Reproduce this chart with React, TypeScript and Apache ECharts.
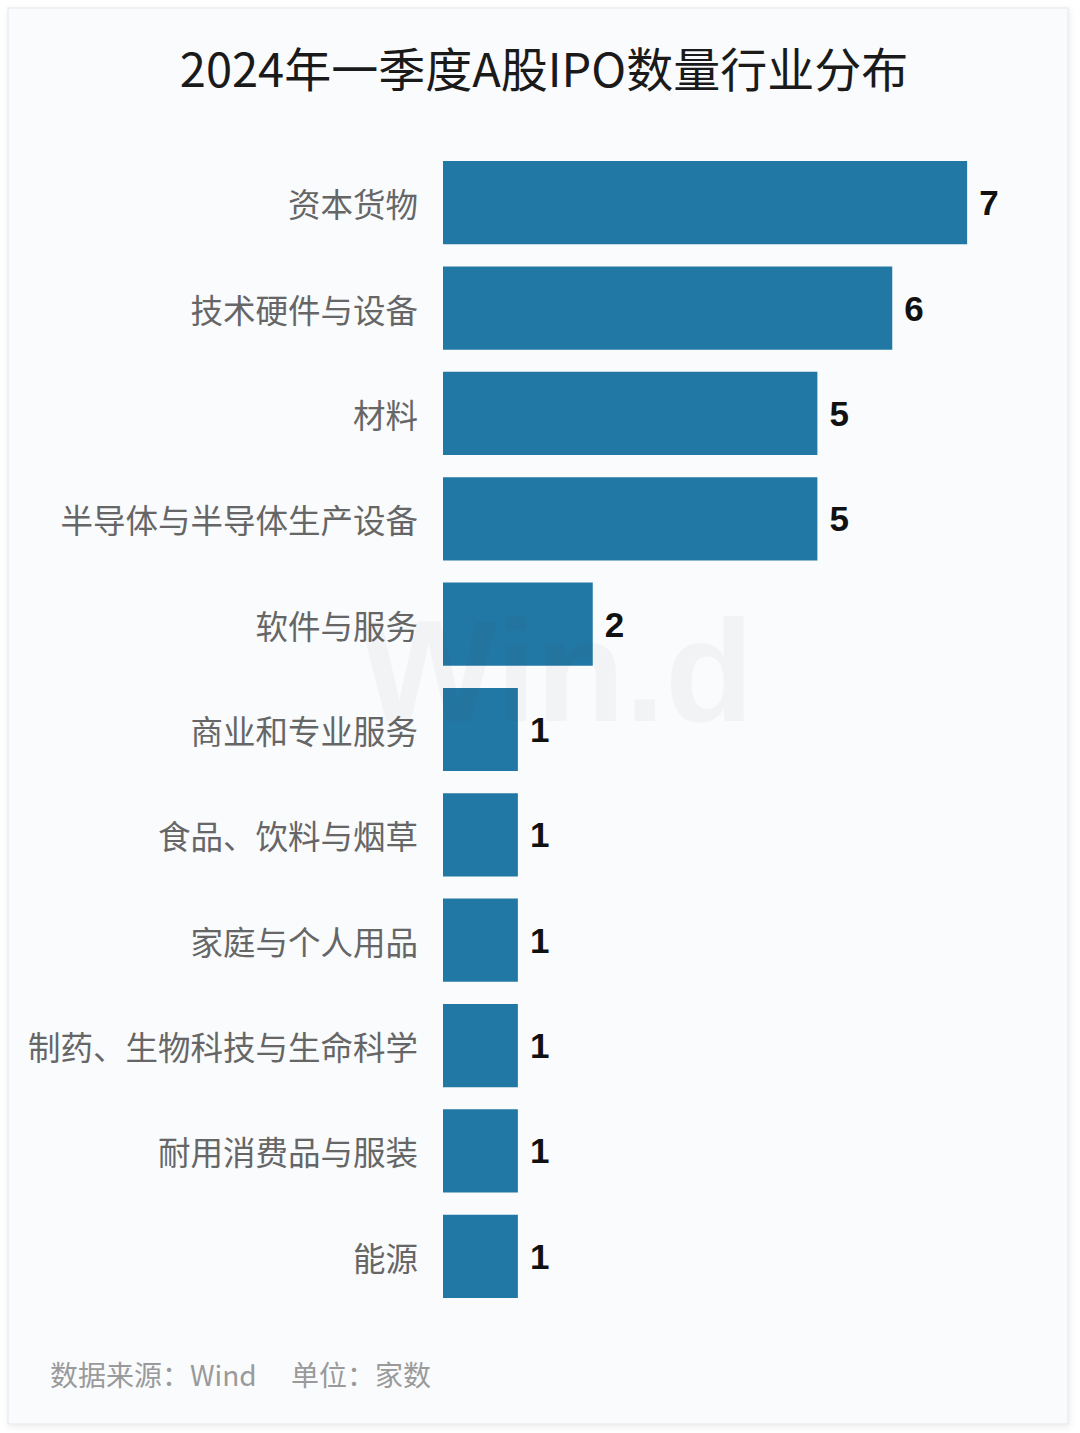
import React, { useEffect, useRef } from "react";
import * as echarts from "echarts";

const titleText = "2024年一季度A股IPO数量行业分布";
const categories = [
  "资本货物",
  "技术硬件与设备",
  "材料",
  "半导体与半导体生产设备",
  "软件与服务",
  "商业和专业服务",
  "食品、饮料与烟草",
  "家庭与个人用品",
  "制药、生物科技与生命科学",
  "耐用消费品与服装",
  "能源",
];
const counts = [7, 6, 5, 5, 2, 1, 1, 1, 1, 1, 1];
const sourceText = "数据来源：Wind";
const unitText = "单位：家数";
const watermarkText = "Win.d";

export default function App() {
  const ref = useRef<HTMLDivElement>(null);
  useEffect(() => {
    if (!ref.current) return;
    const chart = echarts.init(ref.current, null, { renderer: "svg" });
    chart.setOption({
      animation: false,
      backgroundColor: "#ffffff",
      grid: { left: 443, top: 150, width: 599, height: 1159 },
      xAxis: { type: "value", min: 0, max: 8, show: false },
      yAxis: {
        type: "category",
        data: categories,
        inverse: true,
        axisLine: { show: false },
        axisTick: { show: false },
        splitLine: { show: false },
        axisLabel: {
          color: "#666666",
          fontSize: 32.5,
          margin: 25,
          fontFamily: "Noto Sans CJK SC",
        },
      },
      series: [
        {
          type: "bar",
          data: counts,
          barCategoryGap: "21%",
          itemStyle: { color: "#2278a5" },
          label: {
            show: true,
            position: "right",
            distance: 12,
            fontSize: 35,
            fontWeight: "bold",
            color: "#111111",
            fontFamily: "Liberation Sans",
          },
          z: 2,
        },
      ],
      graphic: [
        {
          type: "rect",
          z: -10,
          silent: true,
          shape: { x: 8, y: 8, width: 1060, height: 1416 },
          style: {
            fill: "#f9fbfd",
            stroke: "#ebedef",
            lineWidth: 1.5,
            shadowBlur: 6,
            shadowColor: "rgba(0,0,0,0.08)",
            shadowOffsetX: 1,
            shadowOffsetY: 2,
          },
        },
        {
          type: "text",
          z: 10,
          x: 544,
          y: 66,
          style: {
            text: titleText,
            fill: "#1a1a1a",
            fontSize: 47,
            fontFamily: "Noto Sans CJK SC",
            textAlign: "center",
            textVerticalAlign: "middle",
          },
        },
        {
          type: "text",
          z: 100,
          silent: true,
          x: 557,
          y: 671,
          style: {
            text: watermarkText,
            fill: "rgba(60,70,80,0.045)",
            fontSize: 145,
            fontWeight: "bold",
            fontFamily: "Liberation Sans",
            textAlign: "center",
            textVerticalAlign: "middle",
          },
        },
        {
          type: "text",
          z: 10,
          x: 50,
          y: 1374,
          style: {
            text: sourceText,
            fill: "#9a9a9a",
            fontSize: 28,
            fontFamily: "Noto Sans CJK SC",
            textAlign: "left",
            textVerticalAlign: "middle",
          },
        },
        {
          type: "text",
          z: 10,
          x: 291,
          y: 1374,
          style: {
            text: unitText,
            fill: "#9a9a9a",
            fontSize: 28,
            fontFamily: "Noto Sans CJK SC",
            textAlign: "left",
            textVerticalAlign: "middle",
          },
        },
      ],
    });
    return () => chart.dispose();
  }, []);
  return (
    <div
      ref={ref}
      style={{ position: "absolute", left: 0, top: 0, width: 1080, height: 1433 }}
    />
  );
}
